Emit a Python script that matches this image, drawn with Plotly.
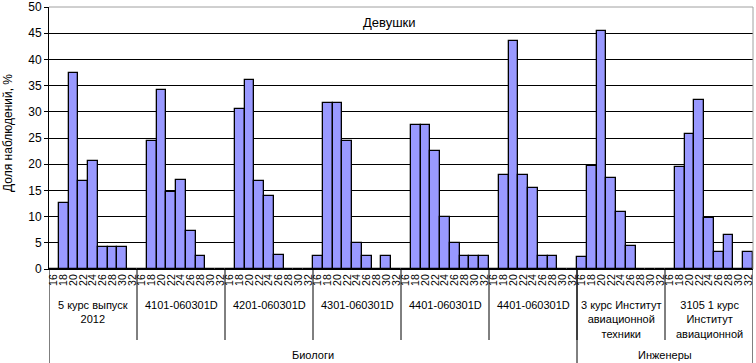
import plotly.graph_objects as go

sizes = ["16", "18", "20", "22", "24", "26", "28", "30", "32"]
groups = ["5 курс выпуск<br>2012", "4101-060301D", "4201-060301D", "4301-060301D",
          "4401-060301D", "4401-060301D", "3 курс Институт<br>авиационной<br>техники",
          "3105 1 курс<br>Институт<br>авиационной"]
faculties = ["Биологи", "Инженеры"]
faculty_group_counts = [6, 2]

g1 = [0, 12.6, 37.4, 16.7, 20.7, 4.2, 4.2, 4.2, 0]
g2 = [0, 24.4, 34.2, 14.7, 17.0, 7.3, 2.4, 0, 0]
g3 = [0, 30.5, 36.1, 16.7, 13.9, 2.6, 0, 0, 0]
g4 = [2.4, 31.6, 31.6, 24.4, 4.9, 2.4, 0, 2.4, 0]
g5 = [0, 27.4, 27.4, 22.5, 9.9, 5.0, 2.4, 2.4, 2.4]
g6 = [0, 17.9, 43.5, 17.9, 15.4, 2.4, 2.4, 0, 0]
g7 = [2.2, 19.7, 45.5, 17.4, 10.9, 4.3, 0, 0, 0]
g8 = [0, 19.5, 25.8, 32.3, 9.8, 3.2, 6.5, 0, 3.2]
values = g1 + g2 + g3 + g4 + g5 + g6 + g7 + g8

n = len(sizes)
xs = list(range(len(values)))
ticktext = sizes * len(groups)

FONT = "Liberation Sans, Arial, sans-serif"

fig = go.Figure(go.Bar(
    x=xs, y=values,
    marker=dict(color="#9999FF", line=dict(color="black", width=1.3)),
))

shapes = []
annotations = []
# group separators (second level)
for k in range(1, len(groups)):
    pos = k * n - 0.5
    shapes.append(dict(type="line", xref="x", yref="paper", x0=pos, x1=pos,
                       y0=0, y1=-0.271, line=dict(color="black", width=1)))
# faculty boundaries (third level), full height below axis
bounds = [0]
for c in faculty_group_counts:
    bounds.append(bounds[-1] + c)
for b in bounds:
    pos = b * n - 0.5
    shapes.append(dict(type="line", xref="x", yref="paper", x0=pos, x1=pos,
                       y0=0, y1=-0.36, line=dict(color="black", width=1)))
# plot-area border top and right
shapes.append(dict(type="line", xref="paper", yref="paper", x0=0, x1=1, y0=1, y1=1,
                   line=dict(color="#A0A0A0", width=1), layer="above"))
shapes.append(dict(type="line", xref="paper", yref="paper", x0=1, x1=1, y0=0, y1=1,
                   line=dict(color="#A0A0A0", width=1), layer="above"))

for k, g in enumerate(groups):
    annotations.append(dict(text=g, x=k * n + (n - 1) / 2, xref="x", y=-0.105, yref="paper",
                            xanchor="center", yanchor="top", showarrow=False,
                            font=dict(size=11, family=FONT, color="black")))
for i, f in enumerate(faculties):
    center = (bounds[i] * n - 0.5 + bounds[i + 1] * n - 0.5) / 2
    annotations.append(dict(text=f, x=center, xref="x", y=-0.33, yref="paper",
                            xanchor="center", yanchor="middle", showarrow=False,
                            font=dict(size=11, family=FONT, color="black")))
annotations.append(dict(text="Девушки", x=0.483, xref="paper", y=0.939, yref="paper",
                        xanchor="center", yanchor="middle", showarrow=False,
                        font=dict(size=13, family=FONT, color="black")))
annotations.append(dict(text="Доля наблюдений, %", x=-0.058, xref="paper", y=0.52, yref="paper",
                        xanchor="center", yanchor="middle", showarrow=False, textangle=-90,
                        font=dict(size=12, family=FONT, color="black")))

fig.update_layout(
    width=756, height=363,
    margin=dict(l=49, r=3, t=7, b=94),
    paper_bgcolor="white", plot_bgcolor="white",
    bargap=0, showlegend=False,
    font=dict(family=FONT, color="black"),
    shapes=shapes, annotations=annotations,
    xaxis=dict(range=[-0.5, len(values) - 0.5], tickmode="array", tickvals=xs,
               ticktext=ticktext, tickangle=-90, tickfont=dict(size=10.5),
               showline=True, linecolor="black", linewidth=1, showgrid=False,
               ticks="", fixedrange=True, automargin=False),
    yaxis=dict(range=[0, 50], dtick=5, showline=True, linecolor="black", linewidth=1,
               ticks="outside", ticklen=4, tickcolor="black",
               showgrid=True, gridcolor="black", gridwidth=1,
               zeroline=False, tickfont=dict(size=12), fixedrange=True, automargin=False),
)

fig.write_html("out.html", config={"displayModeBar": False},
               post_script="document.body.style.margin='0';document.body.style.overflow='hidden';")
